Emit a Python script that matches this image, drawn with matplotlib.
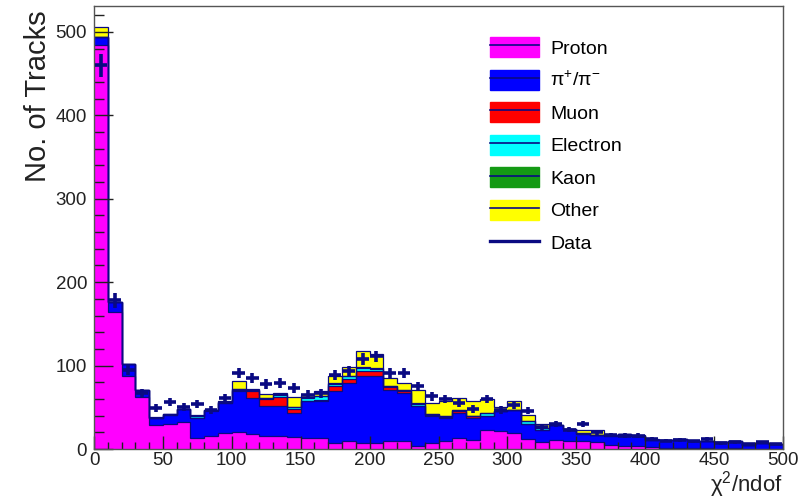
import numpy as np
import matplotlib
matplotlib.use("Agg")
import matplotlib.pyplot as plt
from matplotlib.patches import Patch
from matplotlib.lines import Line2D
from matplotlib.ticker import MultipleLocator

plt.rcParams['font.family'] = ['Liberation Sans', 'DejaVu Sans']
plt.rcParams['mathtext.fontset'] = 'custom'
plt.rcParams['mathtext.rm'] = 'Liberation Sans'
plt.rcParams['mathtext.it'] = 'Liberation Sans'

# chi2/ndof binning: 50 bins of width 10
bin_edges = np.arange(0, 510, 10)

# per-species track counts in each bin (stacked bottom to top)
proton = [484, 164, 88, 62, 29, 30, 32, 13, 16, 19,
          20, 18, 15, 15, 14, 13, 13, 7, 9, 7,
          7, 9, 9, 3, 7, 9, 13, 11, 23, 21,
          19, 12, 8, 11, 9, 9, 8, 5, 3, 3,
          2, 1, 1, 1, 1, 0, 1, 0, 0, 0]
pion = [10, 12, 14, 9, 8, 11, 16, 24, 29, 36,
        49, 43, 36, 37, 29, 44, 45, 62, 70, 80,
        80, 62, 58, 48, 32, 28, 30, 26, 17, 24,
        28, 18, 15, 18, 15, 9, 9, 11, 15, 12,
        9, 10, 11, 9, 8, 8, 8, 5, 7, 6]
muon = [0, 0, 0, 0, 0, 0, 0, 0, 2, 0,
        2, 8, 9, 10, 5, 1, 1, 6, 5, 6,
        6, 3, 3, 0, 2, 1, 2, 2, 0, 0,
        0, 0, 0, 0, 0, 0, 0, 0, 0, 0,
        0, 0, 0, 0, 0, 0, 0, 0, 0, 0]
electron = [0, 0, 0, 0, 0, 1, 0, 2, 0, 1,
            1, 2, 1, 3, 2, 3, 4, 3, 3, 4,
            3, 1, 1, 3, 1, 2, 2, 1, 3, 0,
            0, 3, 2, 0, 0, 1, 0, 1, 0, 0,
            0, 0, 0, 0, 0, 0, 0, 0, 0, 0]
kaon = [0, 0, 0, 0, 0, 0, 0, 0, 0, 0,
        0, 0, 0, 1, 0, 1, 1, 1, 1, 1,
        1, 0, 0, 1, 0, 0, 0, 0, 0, 1,
        0, 0, 0, 0, 0, 0, 0, 0, 0, 0,
        0, 0, 0, 0, 0, 0, 0, 0, 0, 0]
other = [12, 0, 0, 0, 1, 0, 0, 2, 0, 1,
         9, 1, 5, 1, 12, 3, 6, 8, 10, 20,
         17, 10, 8, 16, 13, 17, 14, 18, 17, 4,
         10, 8, 5, 0, 0, 4, 6, 0, 0, 2,
         1, 0, 0, 0, 0, 0, 0, 0, 0, 0]
# measured tracks
data = [460, 178, 95, 67, 49, 56, 50, 54, 47, 61,
        91, 85, 78, 79, 73, 65, 67, 89, 93, 108,
        111, 91, 91, 75, 63, 60, 55, 48, 60, 47,
        53, 46, 26, 30, 23, 30, 20, 17, 16, 16,
        12, 10, 11, 9, 12, 7, 8, 6, 8, 6]

species = [
    ("Proton", proton, "#ff00ff"),
    ("π$^{+}$/π$^{-}$", pion, "#0000ff"),
    ("Muon", muon, "#ff0000"),
    ("Electron", electron, "#00ffff"),
    ("Kaon", kaon, "#149a14"),
    ("Other", other, "#ffff00"),
]
navy = "#0a0a82"

fig = plt.figure(figsize=(8.10, 5.01), dpi=100)
ax = fig.add_axes([94 / 810, 1 - 449 / 501, 689 / 810, 443 / 501])

bottom = np.zeros(len(bin_edges) - 1)
handles = []
for name, vals, col in species:
    vals = np.asarray(vals, dtype=float)
    top = bottom + vals
    ax.stairs(top, bin_edges, baseline=bottom, fill=True, color=col, lw=0)
    handles.append((Patch(facecolor=col, edgecolor=col),
                    Line2D([0], [0], color=navy, lw=1.2)))
    bottom = top

# layer outlines
bottom = np.zeros(len(bin_edges) - 1)
for name, vals, col in species:
    bottom = bottom + np.asarray(vals, dtype=float)
    ax.stairs(bottom, bin_edges, baseline=None, color=navy, lw=0.9)

centers = 0.5 * (bin_edges[:-1] + bin_edges[1:])
d = np.asarray(data, dtype=float)
ax.errorbar(centers, d, xerr=4.5, yerr=0.65 * np.sqrt(d), fmt="none",
            ecolor=navy, elinewidth=2.6, capsize=0, zorder=5)

ax.set_xlim(0, 500)
ax.set_ylim(0, 531)
ax.xaxis.set_major_locator(MultipleLocator(50))
ax.xaxis.set_minor_locator(MultipleLocator(10))
ax.yaxis.set_major_locator(MultipleLocator(100))
ax.yaxis.set_minor_locator(MultipleLocator(20))
ax.tick_params(axis="both", which="both", direction="in", top=False,
               right=False, colors="#222222", labelsize=13.5, width=1)
ax.tick_params(axis="x", which="major", length=9.5, pad=2.5)
ax.tick_params(axis="x", which="minor", length=4.8)
ax.tick_params(axis="y", which="major", length=14, pad=5)
ax.tick_params(axis="y", which="minor", length=7)
for s in ax.spines.values():
    s.set_color("#555555")
    s.set_linewidth(1)

fig.text(38 / 810, 1 - 10 / 501, "No. of Tracks", rotation=90,
         ha="center", va="top", fontsize=21, color="#222222")
fig.text(783 / 810, 1 - 500 / 501, "χ$^{2}$/ndof", ha="right",
         va="bottom", fontsize=16, color="#222222")

labels = [s[0] for s in species] + ["Data"]
handles.append(Line2D([0], [0], color=navy, lw=2.4))
ax.legend(handles, labels, loc="upper left",
          bbox_to_anchor=(490 / 810, 1 - 37 / 501),
          bbox_transform=fig.transFigure, frameon=False, fontsize=14,
          handlelength=2.5, handleheight=1.2, labelspacing=0.62,
          handletextpad=0.6, borderaxespad=0, borderpad=0)

fig.savefig("out.png", dpi=100)
